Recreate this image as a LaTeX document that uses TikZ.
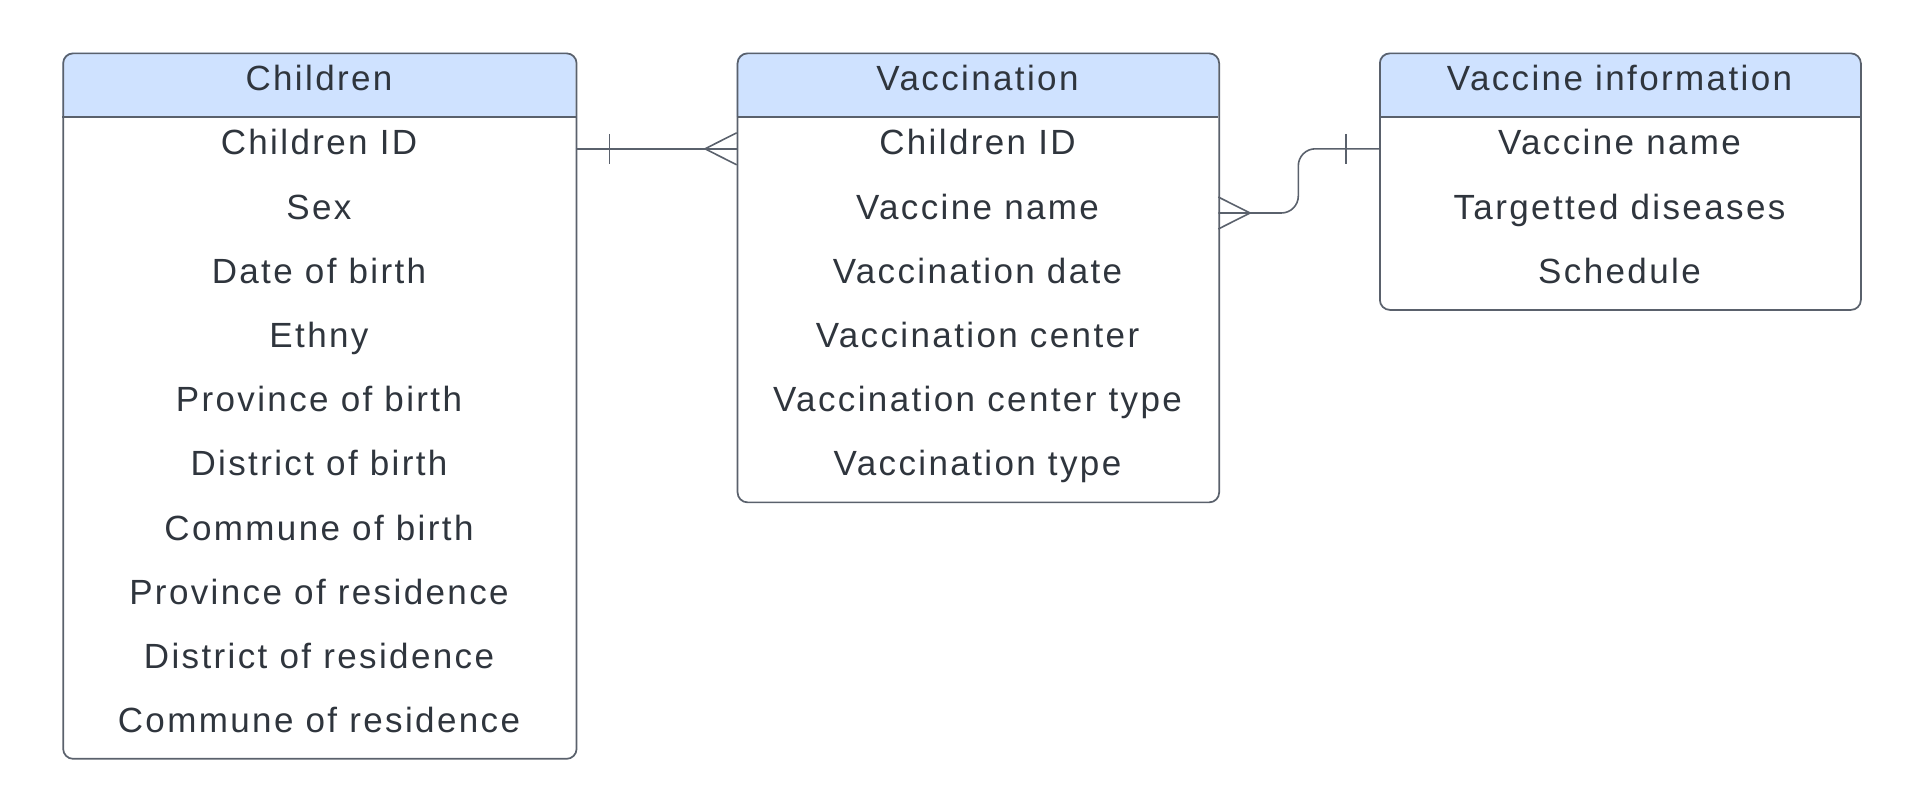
\documentclass[tikz,border=0pt]{standalone}
\usepackage{fontspec}
\setmainfont{Liberation Sans}[LetterSpace=6.8]
\definecolor{hdr}{HTML}{CFE2FF}
\definecolor{bord}{HTML}{5A616C}
\definecolor{txt}{HTML}{2F353D}
\begin{document}
\begin{tikzpicture}[x=0.75pt,y=-0.75pt,
  boxline/.style={draw=bord, line width=1.3pt},
  row/.style={inner sep=0pt, outer sep=0pt, minimum height=48.15pt, text height=18pt, text depth=9pt, text=txt,
    font=\fontsize{26.25pt}{31pt}\selectfont, anchor=north},
  rowC/.style={row, minimum width=385.05pt},
  rowV/.style={row, minimum width=361.2pt},
  rowI/.style={row, minimum width=360.75pt},
  conn/.style={draw=bord, line width=1.2pt}]
\useasboundingbox (0,0) rectangle (1920,808);

% ---------- Children ----------
\fill[hdr] (62.3,116.7) [rounded corners=7.5pt]-- (62.3,52.5) -- (575.7,52.5) [sharp corners]-- (575.7,116.7) -- cycle;
\node[boxline, rounded corners=7.5pt, minimum width=385.05pt, minimum height=529.1pt, anchor=north west, inner sep=0pt] (children) at (62.3,52.5) {};
\draw[boxline] (62.3,116.7) -- (575.7,116.7);
\node[rowC] (ch) at (319,52.5) {Children};
\node[rowC] (c1) at (ch.south) {Children ID};
\node[rowC] (c2) at (c1.south) {Sex};
\node[rowC] (c3) at (c2.south) {Date of birth};
\node[rowC] (c4) at (c3.south) {Ethny};
\node[rowC] (c5) at (c4.south) {Province of birth};
\node[rowC] (c6) at (c5.south) {District of birth};
\node[rowC] (c7) at (c6.south) {Commune of birth};
\node[rowC] (c8) at (c7.south) {Province of residence};
\node[rowC] (c9) at (c8.south) {District of residence};
\node[rowC] (c10) at (c9.south) {Commune of residence};

% ---------- Vaccination ----------
\fill[hdr] (736.7,116.7) [rounded corners=7.5pt]-- (736.7,52.5) -- (1218.3,52.5) [sharp corners]-- (1218.3,116.7) -- cycle;
\node[boxline, rounded corners=7.5pt, minimum width=361.2pt, minimum height=336.75pt, anchor=north west, inner sep=0pt] (vacc) at (736.7,52.5) {};
\draw[boxline] (736.7,116.7) -- (1218.3,116.7);
\node[rowV] (vh) at (977.5,52.5) {Vaccination};
\node[rowV] (v1) at (vh.south) {Children ID};
\node[rowV] (v2) at (v1.south) {Vaccine name};
\node[rowV] (v3) at (v2.south) {Vaccination date};
\node[rowV] (v4) at (v3.south) {Vaccination center};
\node[rowV] (v5) at (v4.south) {Vaccination center type};
\node[rowV] (v6) at (v5.south) {Vaccination type};

% ---------- Vaccine information ----------
\fill[hdr] (1379,116.7) [rounded corners=7.5pt]-- (1379,52.5) -- (1860,52.5) [sharp corners]-- (1860,116.7) -- cycle;
\node[boxline, rounded corners=7.5pt, minimum width=360.75pt, minimum height=192.4pt, anchor=north west, inner sep=0pt] (info) at (1379,52.5) {};
\draw[boxline] (1379,116.7) -- (1860,116.7);
\node[rowI] (ih) at (1619.5,52.5) {Vaccine information};
\node[rowI] (i1) at (ih.south) {Vaccine name};
\node[rowI] (i2) at (i1.south) {Targetted diseases};
\node[rowI] (i3) at (i2.south) {Schedule};

% ---------- Connectors ----------
\draw[conn] (c1.east) -- (v1.west);
\draw[conn] ([shift={(33.6,-15)}]c1.east) -- ([shift={(33.6,15)}]c1.east);
\draw[conn] ([shift={(0,-16)}]v1.west) -- ([shift={(-31.7,0)}]v1.west) -- ([shift={(0,16)}]v1.west);

\draw[conn, rounded corners=12.75pt] (v2.east) -- ++(80,0) |- (i1.west);
\draw[conn] ([shift={(0,-16)}]v2.east) -- ([shift={(31.7,0)}]v2.east) -- ([shift={(0,16)}]v2.east);
\draw[conn] ([shift={(-33.3,-15)}]i1.west) -- ([shift={(-33.3,15)}]i1.west);
\end{tikzpicture}
\end{document}
